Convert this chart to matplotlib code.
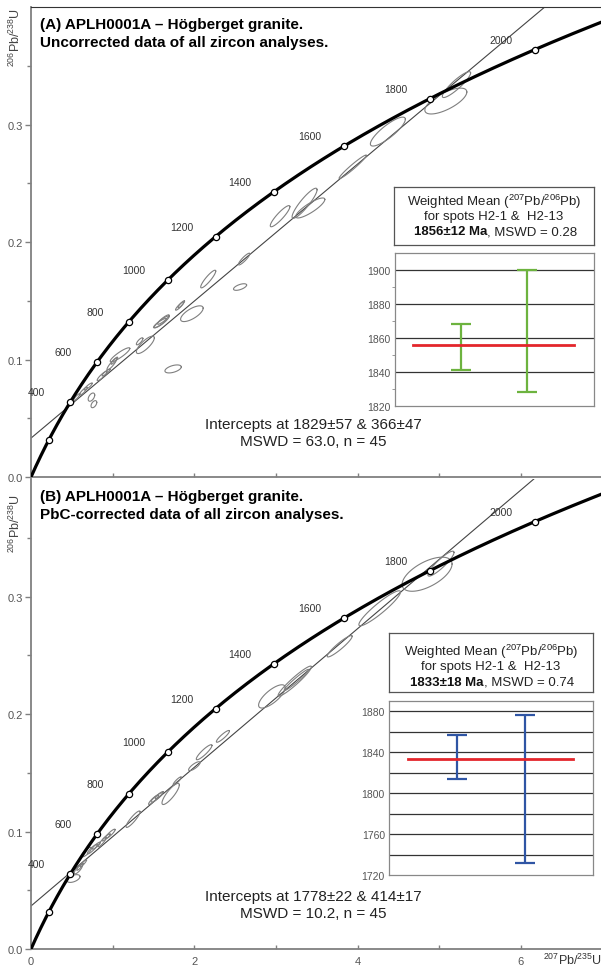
import numpy as np
import matplotlib.pyplot as plt

plt.rcParams['font.family'] = ['Liberation Sans', 'DejaVu Sans']
plt.rcParams['mathtext.fontset'] = 'custom'
plt.rcParams['mathtext.rm'] = 'Liberation Sans'
plt.rcParams['mathtext.it'] = 'Liberation Sans:italic'
plt.rcParams['mathtext.bf'] = 'Liberation Sans:bold'

# U decay constants (1/yr)
L238 = 1.55125e-10
L235 = 9.8485e-10

marker_ages = [200, 400, 600, 800, 1000, 1200, 1400, 1600, 1800, 2000]
label_ages = [400, 600, 800, 1000, 1200, 1400, 1600, 1800, 2000]

# ---- panel A: uncorrected data
a_title = ['(A) APLH0001A \u2013 H\u00f6gberget granite.',
           'Uncorrected data of all zircon analyses.']
a_intercepts = [366, 1829]
a_note = 'Intercepts at 1829\u00b157 & 366\u00b147\nMSWD = 63.0, n = 45'
a_x = [0.56, 0.64, 0.70, 0.74, 0.77, 0.87, 0.92, 0.99, 1.02, 1.09, 1.33, 1.40,
       1.58, 1.60, 1.62, 1.74, 1.82, 1.84, 1.97, 2.17, 2.56, 2.61, 3.05, 3.35,
       3.42, 3.94, 4.37, 5.08, 5.21]
a_y = [0.068, 0.073, 0.077, 0.068, 0.062, 0.086, 0.089, 0.096, 0.099, 0.104,
       0.1155, 0.1125, 0.131, 0.132, 0.134, 0.092, 0.1455, 0.147, 0.139, 0.1685,
       0.1617, 0.1855, 0.222, 0.233, 0.229, 0.264, 0.294, 0.320, 0.334]
a_sx = [0.04, 0.05, 0.05, 0.04, 0.035, 0.06, 0.05, 0.06, 0.04, 0.12, 0.04, 0.11,
        0.08, 0.09, 0.07, 0.10, 0.05, 0.04, 0.138, 0.092, 0.08, 0.07, 0.12, 0.153,
        0.178, 0.167, 0.214, 0.257, 0.173]
a_sy = [0.003, 0.0035, 0.003, 0.0035, 0.003, 0.004, 0.003, 0.005, 0.003, 0.006,
        0.003, 0.0074, 0.004, 0.005, 0.004, 0.0034, 0.0035, 0.003, 0.0067, 0.0075,
        0.0028, 0.005, 0.009, 0.0128, 0.0085, 0.010, 0.0123, 0.011, 0.011]
a_rho = [0.9, 0.9, 0.9, 0.5, 0.5, 0.9, 0.9, 0.9, 0.9, 0.9, 0.8, 0.8, 0.9, 0.9,
         0.9, 0.5, 0.9, 0.9, 0.7, 0.9, 0.6, 0.9, 0.9, 0.9, 0.85, 0.97, 0.85,
         0.7, 0.9]
a_box = ['Weighted Mean ($^{207}$Pb/$^{206}$Pb)', 'for spots H2-1 &  H2-13',
         '1856\u00b112 Ma', ', MSWD = 0.28']
a_spot_age = [1854.5, 1864]
a_spot_err = [13.5, 36]
a_mean = 1856
a_ylim = [1820, 1910]
a_grid = [1840, 1860, 1880, 1900]
a_ticks = [1820, 1840, 1860, 1880, 1900]

# ---- panel B: PbC-corrected data
b_title = ['(B) APLH0001A \u2013 H\u00f6gberget granite.',
           'PbC-corrected data of all zircon analyses.']
b_intercepts = [414, 1778]
b_note = 'Intercepts at 1778\u00b122 & 414\u00b117\nMSWD = 10.2, n = 45'
b_x = [0.52, 0.58, 0.60, 0.64, 0.68, 0.75, 0.80, 0.87, 0.92, 0.97, 1.25, 1.50,
       1.54, 1.57, 1.71, 1.79, 2.00, 2.12, 2.35, 2.95, 3.23, 3.25, 3.78, 4.27,
       4.85, 5.02]
b_y = [0.060, 0.068, 0.070, 0.073, 0.0825, 0.085, 0.088, 0.091, 0.095, 0.098,
       0.1105, 0.127, 0.129, 0.131, 0.132, 0.143, 0.1556, 0.1675, 0.181, 0.215,
       0.228, 0.229, 0.2577, 0.290, 0.319, 0.328]
b_sx = [0.08, 0.05, 0.04, 0.04, 0.06, 0.06, 0.05, 0.05, 0.05, 0.06, 0.086, 0.06,
        0.07, 0.05, 0.106, 0.05, 0.07, 0.096, 0.08, 0.163, 0.204, 0.15, 0.153,
        0.255, 0.306, 0.16]
b_sy = [0.0033, 0.004, 0.003, 0.003, 0.004, 0.004, 0.003, 0.004, 0.003, 0.004,
        0.007, 0.004, 0.004, 0.003, 0.009, 0.0035, 0.0038, 0.0064, 0.005, 0.0099,
        0.0128, 0.009, 0.0091, 0.0149, 0.0145, 0.0106]
b_rho = [0.5, 0.8, 0.9, 0.9, 0.8, 0.9, 0.9, 0.9, 0.9, 0.9, 0.9, 0.9, 0.9, 0.9,
         0.85, 0.9, 0.8, 0.9, 0.9, 0.75, 0.95, 0.97, 0.93, 0.93, 0.6, 0.9]
b_box = ['Weighted Mean ($^{207}$Pb/$^{206}$Pb)', 'for spots H2-1 &  H2-13',
         '1833\u00b118 Ma', ', MSWD = 0.74']
b_spot_age = [1835, 1804]
b_spot_err = [21.5, 72]
b_mean = 1833
b_ylim = [1720, 1890]
b_grid = [1740, 1760, 1780, 1800, 1820, 1840, 1860, 1880]
b_ticks = [1720, 1760, 1800, 1840, 1880]

spot_pos = [1, 2]


def concordia(age):
    t = np.asarray(age, dtype=float) * 1e6
    return np.exp(L235 * t) - 1, np.exp(L238 * t) - 1


def draw_main(ax, title, ints, ex, ey, esx, esy, erho, note, top_spine):
    ages = np.linspace(0, 2300, 400)
    cx, cy = concordia(ages)
    ax.plot(cx, cy, color='black', lw=2.3, zorder=4)
    mx, my = concordia(marker_ages)
    ax.plot(mx, my, 'o', ms=4.5, mfc='white', mec='black', mew=0.9, zorder=5)
    for age in label_ages:
        lx, ly = concordia(age)
        ax.annotate(str(age), (lx, ly), xytext=(-34, 10), textcoords='offset pixels',
                    ha='center', va='center', fontsize=7.5, color='#333333')

    # discordia through both intercepts
    ix, iy = concordia(ints)
    slope = (iy[1] - iy[0]) / (ix[1] - ix[0])
    xs = np.array([0.0, 7.0])
    ax.plot(xs, iy[0] + slope * (xs - ix[0]), color='#444444', lw=0.8, zorder=2)

    # 2-sigma error ellipses
    t = np.linspace(0, 2 * np.pi, 120)
    for x0, y0, sx, sy, r in zip(ex, ey, esx, esy, erho):
        px = x0 + sx * np.cos(t)
        py = y0 + sy * (r * np.cos(t) + np.sqrt(1 - r * r) * np.sin(t))
        ax.plot(px, py, color='#7f7f7f', lw=0.8, zorder=3)

    ax.set_xlim(0, 6.98)
    ax.set_ylim(0, 0.4)
    ax.set_yticks([0.0, 0.1, 0.2, 0.3])
    ax.set_yticks([0.05, 0.15, 0.25, 0.35], minor=True)
    ax.set_yticklabels(['0.0', '0.1', '0.2', '0.3'])
    ax.set_xticks([0, 2, 4, 6])
    ax.set_xticks([1, 3, 5], minor=True)
    ax.tick_params(axis='y', which='both', direction='out', colors='#808080',
                   labelcolor='#555555', labelsize=8, pad=2, width=1)
    ax.tick_params(axis='y', which='major', length=4)
    ax.tick_params(axis='y', which='minor', length=3)
    ax.tick_params(axis='x', which='both', direction='in', length=3, colors='#808080',
                   labelcolor='#555555', labelsize=8, pad=5, width=1)
    for s in ['left', 'bottom']:
        ax.spines[s].set_color('#808080')
        ax.spines[s].set_linewidth(1.3)
    ax.spines['right'].set_visible(False)
    if top_spine:
        ax.spines['top'].set_color('#333333')
        ax.spines['top'].set_linewidth(0.8)
    else:
        ax.spines['top'].set_visible(False)

    ax.text(0.016, 0.964, title[0], transform=ax.transAxes, fontsize=11,
            fontweight='bold', va='center')
    ax.text(0.016, 0.926, title[1], transform=ax.transAxes, fontsize=11,
            fontweight='bold', va='center')
    ax.text(0.495, 0.094, note, transform=ax.transAxes, fontsize=11, ha='center',
            va='center', multialignment='center', linespacing=1.25, color='#222222')


def draw_box(bx, lines, rows):
    bx.set_xticks([])
    bx.set_yticks([])
    for s in bx.spines.values():
        s.set_color('#555555')
        s.set_linewidth(0.9)
    bx.text(0.5, rows[0], lines[0], ha='center', va='center', fontsize=9.5, color='#222222')
    bx.text(0.5, rows[1], lines[1], ha='center', va='center', fontsize=9.5, color='#222222')
    bx.text(0.465, rows[2], lines[2], ha='right', va='center', fontsize=9.5,
            fontweight='bold', color='#111111')
    bx.text(0.465, rows[2], lines[3], ha='left', va='center', fontsize=9.5, color='#222222')


def draw_inset(ix, ages, errs, mean, ylim, grid, ticks, color):
    for g in grid:
        ix.axhline(g, color='#333333', lw=0.9, zorder=1)
    ix.errorbar(spot_pos, ages, yerr=errs, fmt='none', ecolor=color, elinewidth=1.6,
                capsize=7, capthick=1.6, zorder=3)
    ix.plot([0.28, 2.7], [mean, mean], color='#e3262b', lw=2.0, zorder=4)
    ix.set_xlim(0, 3)
    ix.set_ylim(*ylim)
    ix.set_xticks([])
    ix.set_yticks(ticks)
    ix.tick_params(axis='y', length=0, labelsize=7.5, labelcolor='#555555', pad=3)
    for s in ix.spines.values():
        s.set_color('#888888')
        s.set_linewidth(0.9)


fig = plt.figure(figsize=(6.01, 9.70), dpi=100)

ax_a = fig.add_axes([0.0516, 0.5072, 0.9484, 0.4845])
draw_main(ax_a, a_title, a_intercepts, a_x, a_y, a_sx, a_sy, a_rho, a_note, True)
ax_a.set_xticklabels([])
ax_a.text(-0.028, 0.938, '$^{206}$Pb/$^{238}$U', transform=ax_a.transAxes,
          rotation=90, ha='center', va='center', fontsize=9, color='#444444')

ax_b = fig.add_axes([0.0516, 0.0206, 0.9484, 0.4845])
draw_main(ax_b, b_title, b_intercepts, b_x, b_y, b_sx, b_sy, b_rho, b_note, False)
ax_b.text(-0.028, 0.908, '$^{206}$Pb/$^{238}$U', transform=ax_b.transAxes,
          rotation=90, ha='center', va='center', fontsize=9, color='#444444')
fig.text(0.952, 0.0103, '$^{207}$Pb/$^{235}$U', ha='center', va='center',
         fontsize=9, color='#333333')

box_a = fig.add_axes([0.6556, 0.7464, 0.3328, 0.0598])
draw_box(box_a, a_box, [0.76, 0.50, 0.24])
ins_a = fig.add_axes([0.657, 0.5804, 0.331, 0.1577])
draw_inset(ins_a, a_spot_age, a_spot_err, a_mean, a_ylim, a_grid, a_ticks, '#6db33f')
ins_a.set_yticks([1830, 1850, 1870, 1890], minor=True)
ins_a.tick_params(axis='y', which='minor', length=2, color='#888888')

box_b = fig.add_axes([0.6473, 0.2856, 0.3394, 0.0608])
draw_box(box_b, b_box, [0.70, 0.44, 0.17])
ins_b = fig.add_axes([0.6473, 0.0969, 0.3394, 0.1794])
draw_inset(ins_b, b_spot_age, b_spot_err, b_mean, b_ylim, b_grid, b_ticks, '#2f55a4')

fig.savefig('out.png', dpi=100)
